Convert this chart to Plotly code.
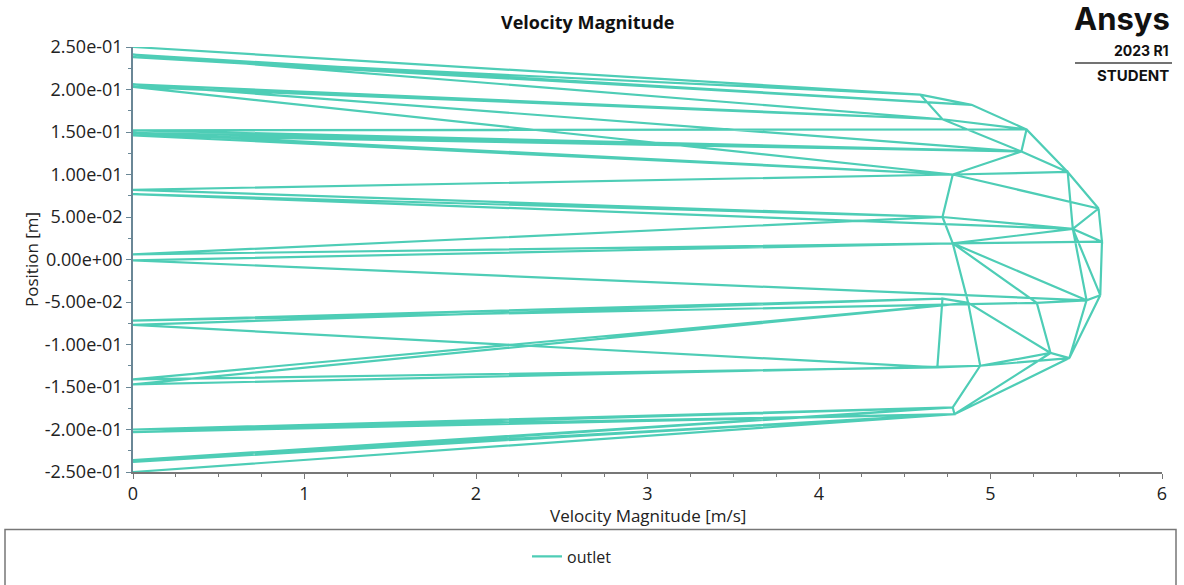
import plotly.graph_objects as go

# ---- data (node order along the outlet line) ----
velocity = [
    0, 4.59, 4.89, 0, 4.72, 4.59, 0, 4.89, 5.21, 4.72,
    0, 5.18, 5.21, 5.45, 5.18, 4.72, 0, 4.78, 5.18, 0,
    5.21, 5.45, 5.63, 4.78, 0, 5.18, 0, 4.78, 4.72, 0,
    4.78, 5.45, 5.48, 4.72, 0, 5.48, 5.63, 5.65, 5.48, 4.78,
    0, 4.72, 4.78, 5.65, 5.64, 5.48, 5.56, 4.78, 0, 5.56,
    5.64, 5.46, 5.56, 5.27, 4.78, 4.87, 4.72, 0, 5.27, 5.35,
    4.87, 4.72, 0, 4.69, 4.72, 4.87, 4.94, 5.35, 5.46, 4.94,
    4.69, 0, 4.87, 0, 4.94, 4.78, 0, 4.79, 5.46, 5.35,
    4.79, 0, 4.78, 4.79, 0, 4.78, 0, 4.79, 0,
]
position = [
    0.250, 0.194, 0.182, 0.241, 0.165, 0.194, 0.238, 0.182, 0.153, 0.165,
    0.206, 0.127, 0.153, 0.103, 0.127, 0.165, 0.203, 0.100, 0.127, 0.152,
    0.153, 0.103, 0.060, 0.100, 0.149, 0.127, 0.146, 0.100, 0.050, 0.082,
    0.100, 0.103, 0.036, 0.050, 0.077, 0.036, 0.060, 0.021, 0.036, 0.019,
    0.006, 0.050, 0.019, 0.021, -0.042, 0.036, -0.048, 0.019, -0.001, -0.048,
    -0.042, -0.116, -0.048, -0.051, 0.019, -0.051, -0.046, -0.072, -0.051, -0.110,
    -0.051, -0.046, -0.077, -0.127, -0.046, -0.051, -0.125, -0.110, -0.116, -0.125,
    -0.127, -0.141, -0.051, -0.147, -0.125, -0.174, -0.200, -0.182, -0.116, -0.110,
    -0.182, -0.203, -0.174, -0.182, -0.236, -0.174, -0.238, -0.182, -0.250,
]
x_ticks = [0, 1, 2, 3, 4, 5, 6]
y_ticks = [0.25, 0.20, 0.15, 0.10, 0.05, 0.0, -0.05, -0.10, -0.15, -0.20, -0.25]
y_tick_labels = ["2.50e-01", "2.00e-01", "1.50e-01", "1.00e-01", "5.00e-02", "0.00e+00",
                 "-5.00e-02", "-1.00e-01", "-1.50e-01", "-2.00e-01", "-2.50e-01"]
series_name = "outlet"

# ---- geometry (pixels) ----
W, H = 1184, 585
L, R, T, B = 133, 22, 47, 110
pw, ph = W - L - R, H - T - B


def px(xp):
    return (xp - L) / pw


def py(yp):
    return (H - B - yp) / ph


LINE = "#4ecdb6"
FONT = "Open Sans"

fig = go.Figure()
fig.add_trace(go.Scatter(x=velocity, y=position, mode="lines",
                         line=dict(color=LINE, width=2.2), name=series_name,
                         showlegend=True))

fig.update_layout(
    width=W, height=H,
    margin=dict(l=L, r=R, t=T, b=B, pad=0),
    paper_bgcolor="white", plot_bgcolor="white",
    font=dict(family=FONT, color="#222", size=16),
    showlegend=True,
    legend=dict(orientation="h", x=px(572), xanchor="center", y=py(560), yanchor="middle",
                bgcolor="rgba(0,0,0,0)", font=dict(size=16, color="#222"),
                itemwidth=30),
)

fig.update_xaxes(
    range=[0, 6], tickvals=x_ticks, ticktext=[str(v) for v in x_ticks],
    showgrid=False, zeroline=False, showline=True, linecolor="#777", linewidth=1.5,
    ticks="outside", ticklen=5, tickcolor="#777", tickwidth=1.2,
    tickfont=dict(size=18, color="#222"),
    minor=dict(dtick=0.25, ticks="outside", ticklen=3, tickcolor="#777"),
)
fig.update_yaxes(
    range=[-0.25, 0.25], tickvals=y_ticks, ticktext=y_tick_labels,
    showgrid=False, zeroline=False, showline=True, linecolor="#6a8796", linewidth=1.5,
    ticks="outside", ticklen=5, tickcolor="#6a8796", tickwidth=1.2,
    tickfont=dict(size=18, color="#222"),
    minor=dict(dtick=0.025, ticks="outside", ticklen=3, tickcolor="#6a8796"),
)

ann = []
ann.append(dict(text="<b>Velocity Magnitude</b>", x=px(587), y=py(22), xref="paper", yref="paper",
                yanchor="middle", showarrow=False, font=dict(size=18, color="#111")))
ann.append(dict(text="Velocity Magnitude [m/s]", x=px(648), y=py(519), xref="paper", yref="paper",
                yanchor="middle", showarrow=False, font=dict(size=17, color="#222")))
ann.append(dict(text="Position [m]", x=px(18), y=py(261), xref="paper", yref="paper",
                yanchor="middle", showarrow=False, textangle=-90, font=dict(size=17, color="#222")))
ann.append(dict(text="<b>Ansys</b>", x=px(1172), y=py(18), xref="paper", yref="paper",
                xanchor="right", yanchor="middle", showarrow=False,
                font=dict(size=31, color="#111", family="Inter")))
ann.append(dict(text="<b>2023 R1</b>", x=px(1171), y=py(51), xref="paper", yref="paper",
                xanchor="right", yanchor="middle", showarrow=False,
                font=dict(size=14, color="#111", family="Inter")))
ann.append(dict(text="<b>STUDENT</b>", x=px(1171), y=py(76), xref="paper", yref="paper",
                xanchor="right", yanchor="middle", showarrow=False,
                font=dict(size=15, color="#111", family="Inter")))
fig.update_layout(annotations=ann)

fig.add_shape(type="line", xref="paper", yref="paper", x0=px(1075), x1=px(1172),
              y0=py(63), y1=py(63), line=dict(color="#444", width=1.5))
fig.add_shape(type="rect", xref="paper", yref="paper", x0=px(5), x1=px(1176),
              y0=py(533), y1=py(600), line=dict(color="#777", width=1.5),
              fillcolor="rgba(0,0,0,0)", layer="below")

fig.write_html("out.html")
